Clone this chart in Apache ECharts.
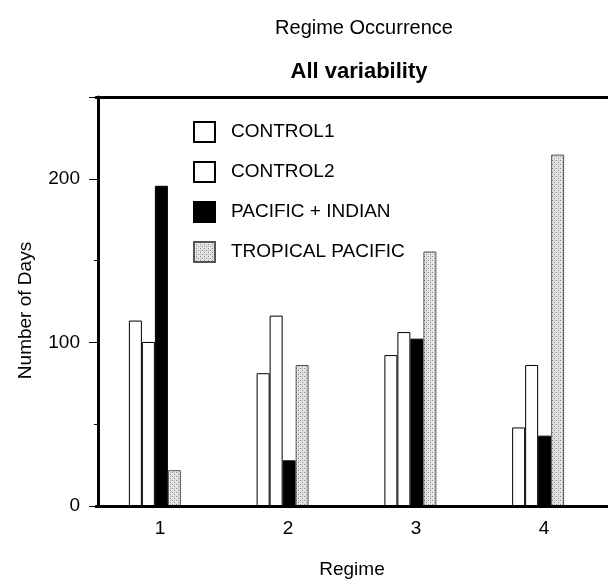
<!DOCTYPE html>
<html>
<head>
<meta charset="utf-8">
<script src="https://cdn.jsdelivr.net/npm/echarts@6/dist/echarts.min.js"></script>
<style>
  html, body { margin: 0; padding: 0; background: #fff; }
  #chart { width: 608px; height: 584px; }
</style>
</head>
<body>
<div id="chart"></div>
<script>
var regimes = ['1', '2', '3', '4']
var seriesNames = ['CONTROL1', 'CONTROL2', 'PACIFIC + INDIAN', 'TROPICAL PACIFIC']
var control1 = [114, 82, 93, 49]
var control2 = [101, 117, 107, 87]
var pacificIndian = [196, 29, 103, 44]
var tropicalPacific = [23, 87, 156, 215]
var yTicks = [0, 100, 200]

var font = 'Liberation Sans, Arial, sans-serif'

// stipple fill for the tropical pacific bars
var dots = document.createElement('canvas')
dots.width = dots.height = 4
var dctx = dots.getContext('2d')
dctx.fillStyle = '#e4e4e4'
dctx.fillRect(0, 0, 4, 4)
dctx.fillStyle = '#8a8a8a'
dctx.fillRect(0, 0, 1, 1)
dctx.fillRect(2, 2, 1, 1)
dctx.fillStyle = '#b8b8b8'
dctx.fillRect(2, 0, 1, 1)
var stipple = { image: dots, repeat: 'repeat' }

var fills = ['#fff', '#fff', '#000', stipple]
var values = [control1, control2, pacificIndian, tropicalPacific]

var chart = echarts.init(document.getElementById('chart'))

chart.setOption({
  animation: false,
  backgroundColor: '#fff',
  textStyle: { fontFamily: font, color: '#000' },
  title: [{
    text: 'Regime Occurrence',
    left: 359,
    top: 13,
    textAlign: 'center',
    textStyle: { fontFamily: font, fontSize: 20, fontWeight: 'normal', color: '#000' }
  }, {
    text: 'All variability',
    left: 354,
    top: 56,
    textAlign: 'center',
    textStyle: { fontFamily: font, fontSize: 22, fontWeight: 'bold', color: '#000' }
  }],
  legend: {
    orient: 'vertical',
    left: 193,
    top: 121,
    padding: 0,
    icon: 'rect',
    itemWidth: 21,
    itemHeight: 20,
    itemGap: 18,
    data: seriesNames,
    selectedMode: false,
    textStyle: { fontFamily: font, fontSize: 19, lineHeight: 20, color: '#000', padding: [0, 0, 0, 11] }
  },
  grid: [{
    left: 91,
    right: 6,
    top: 97,
    bottom: 76
  }, {
    left: 96,
    right: -1,
    top: 97,
    bottom: 76
  }],
  xAxis: [{
    type: 'category',
    gridIndex: 0,
    data: regimes,
    show: false
  }, {
    type: 'category',
    gridIndex: 1,
    data: regimes,
    name: 'Regime',
    nameLocation: 'middle',
    nameGap: 54,
    nameTextStyle: { fontFamily: font, fontSize: 19, color: '#000' },
    axisLine: { lineStyle: { color: '#000', width: 3 } },
    axisTick: { alignWithLabel: true, length: 6, lineStyle: { color: '#000', width: 1 } },
    axisLabel: { fontFamily: font, fontSize: 19, color: '#000', margin: 13 },
    z: 5
  }, {
    type: 'category',
    gridIndex: 1,
    position: 'top',
    data: regimes,
    axisLine: { lineStyle: { color: '#000', width: 3 } },
    axisTick: { show: false },
    axisLabel: { show: false },
    z: 5
  }],
  yAxis: [{
    type: 'value',
    gridIndex: 0,
    min: 0,
    max: 250,
    show: false
  }, {
    type: 'value',
    gridIndex: 1,
    min: 0,
    max: 250,
    interval: 100,
    offset: -2,
    name: 'Number of Days',
    nameLocation: 'middle',
    nameGap: 63,
    nameTextStyle: { fontFamily: font, fontSize: 19, color: '#000', padding: [0, 18, 0, 0] },
    axisLine: { show: true, lineStyle: { color: '#000', width: 3 } },
    axisTick: { show: true, length: 9, lineStyle: { color: '#000', width: 1 } },
    minorTick: { show: true, splitNumber: 2, length: 4, lineStyle: { color: '#000', width: 1 } },
    splitLine: { show: false },
    axisLabel: {
      fontFamily: font,
      fontSize: 19,
      color: '#000',
      margin: 18,
      formatter: function(v) {
        return yTicks.indexOf(v) >= 0 ? String(v) : ''
      }
    },
    z: 5
  }],
  series: seriesNames.map(function(name, i) {
    return {
      name: name,
      type: 'bar',
      xAxisIndex: 0,
      yAxisIndex: 0,
      barWidth: 13,
      barGap: '0%',
      itemStyle: {
        color: fills[i],
        borderColor: i === 3 ? '#555' : '#000',
        borderWidth: 1
      },
      data: values[i]
    }
  })
})
</script>
</body>
</html>
